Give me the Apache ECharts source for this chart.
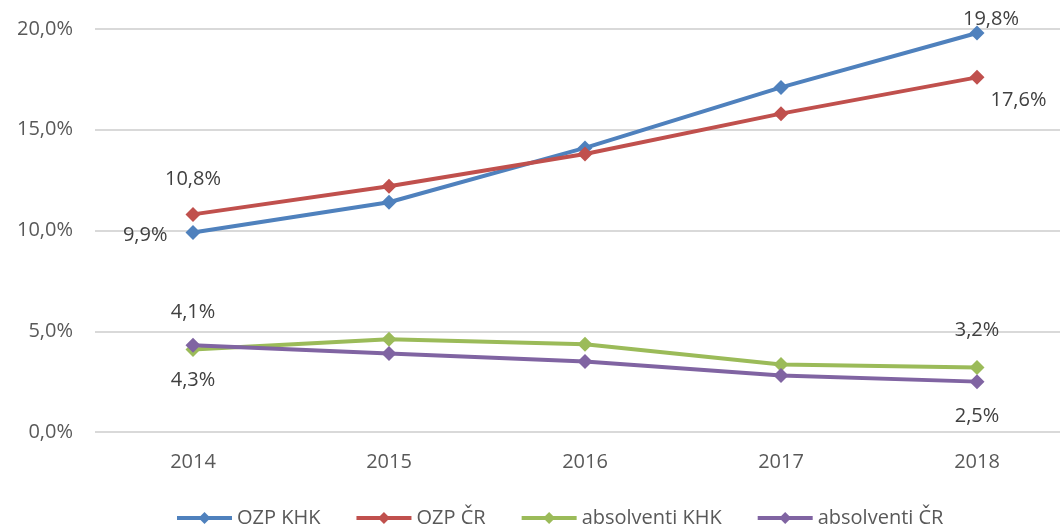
<!DOCTYPE html>
<html>
<head>
<meta charset="utf-8">
<script src="https://cdn.jsdelivr.net/npm/echarts@6/dist/echarts.min.js"></script>
<style>
  html, body { margin: 0; padding: 0; background: #fff; }
  #chart { width: 1060px; height: 527px; }
</style>
</head>
<body>
<div id="chart"></div>
<script>
const years = ['2014', '2015', '2016', '2017', '2018'];
const ozpKhk = [9.9, 11.4, 14.1, 17.1, 19.8];
const ozpCr = [10.8, 12.2, 13.8, 15.8, 17.6];
const absKhk = [4.1, 4.6, 4.35, 3.35, 3.2];
const absCr = [4.3, 3.9, 3.5, 2.8, 2.5];

const fmt = (v) => v.toFixed(1).replace('.', ',') + '%';
const font = "'Open Sans', 'Liberation Sans', sans-serif";

// label settings for first / last point of each series
const labelOf = (pos, offset) => ({
  show: true,
  position: pos,
  offset: offset || [0, 0],
  distance: 14,
  color: '#404040',
  fontSize: 20,
  fontFamily: font,
  formatter: (p) => fmt(p.value),
});

const withLabels = (arr, first, last) =>
  arr.map((v, i) => {
    if (i === 0) return { value: v, label: first };
    if (i === arr.length - 1) return { value: v, label: last };
    return v;
  });

const makeSeries = (name, color, data) => ({
  name: name,
  type: 'line',
  data: data,
  symbol: 'diamond',
  symbolSize: 15,
  lineStyle: { width: 4, color: color },
  itemStyle: { color: color },
  label: { show: false },
});

const chart = echarts.init(document.getElementById('chart'));
chart.setOption({
  animation: false,
  grid: {
    left: 95,
    top: 29,
    width: 980,
    height: 403,
    containLabel: false,
    outerBoundsMode: 'none',
  },
  legend: {
    top: 503,
    left: 170,
    itemWidth: 55,
    itemHeight: 15,
    itemGap: 34,
    lineStyle: { width: 4 },
    textStyle: { color: '#595959', fontSize: 20, fontFamily: font },
    data: ['OZP KHK', 'OZP ČR', 'absolventi KHK', 'absolventi ČR'],
  },
  xAxis: {
    type: 'category',
    data: years,
    boundaryGap: true,
    axisLine: { show: false },
    axisTick: { show: false },
    axisLabel: { color: '#595959', fontSize: 20, fontFamily: font, margin: 20 },
  },
  yAxis: {
    type: 'value',
    min: 0,
    max: 20,
    interval: 5,
    axisLine: { show: false },
    axisTick: { show: false },
    splitLine: { lineStyle: { color: '#d9d9d9', width: 2 } },
    axisLabel: {
      color: '#595959',
      fontSize: 20,
      fontFamily: font,
      margin: 22,
      formatter: (v) => fmt(v),
    },
  },
  series: [
    makeSeries('OZP KHK', '#4F81BD',
      withLabels(ozpKhk, labelOf('left', [-4, 3]), labelOf('top', [14, 18]))),
    makeSeries('OZP ČR', '#C0504D',
      withLabels(ozpCr, labelOf('top', [0, -4]), labelOf('right', [-8, 23]))),
    makeSeries('absolventi KHK', '#9BBB59',
      withLabels(absKhk, labelOf('top', [0, -6]), labelOf('top', [0, -6]))),
    makeSeries('absolventi ČR', '#8064A2',
      withLabels(absCr, labelOf('bottom', [0, 3]), labelOf('bottom', [0, 3]))),
  ],
});
</script>
</body>
</html>
